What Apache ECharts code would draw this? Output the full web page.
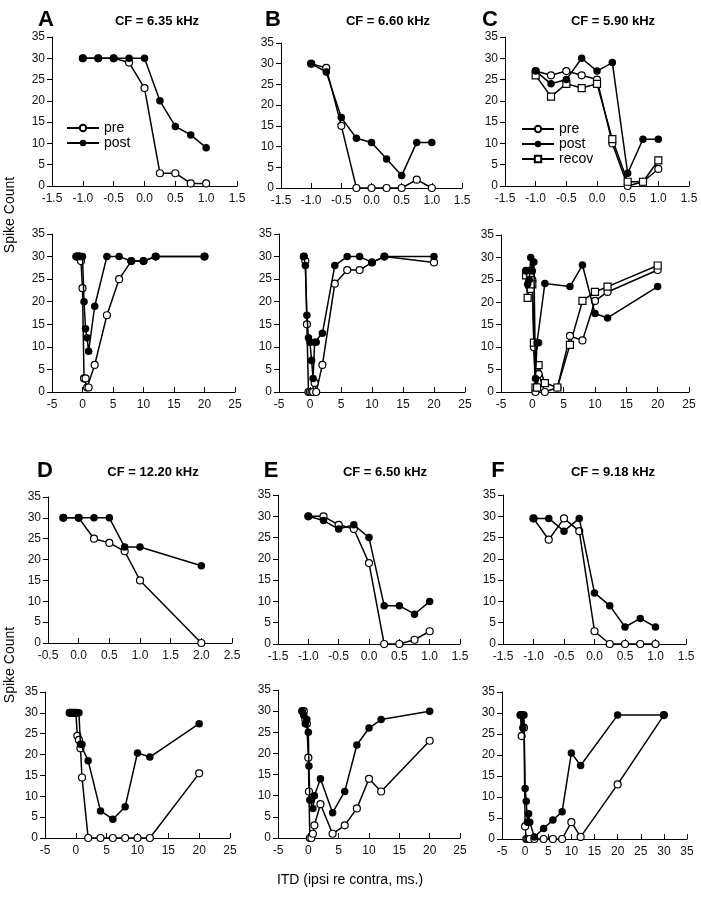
<!DOCTYPE html>
<html>
<head>
<meta charset="utf-8">
<script src="https://cdn.jsdelivr.net/npm/echarts@6/dist/echarts.min.js"></script>
<style>html,body{margin:0;padding:0;background:#fff}#c{width:701px;height:900px}</style>
</head>
<body>
<div id="c"></div>
<script>
// ---------- DATA ----------
const yTicks = [0, 5, 10, 15, 20, 25, 30, 35];
const topXTicks = ['-1.5', '-1.0', '-0.5', '0.0', '0.5', '1.0', '1.5'];
const dTopXTicks = ['-0.5', '0.0', '0.5', '1.0', '1.5', '2.0', '2.5'];
const botXTicks = ['-5', '0', '5', '10', '15', '20', '25'];
const fBotXTicks = ['-5', '0', '5', '10', '15', '20', '25', '30', '35'];

const titlesCF = ['CF = 6.35 kHz', 'CF = 6.60 kHz', 'CF = 5.90 kHz', 'CF = 12.20 kHz', 'CF = 6.50 kHz', 'CF = 9.18 kHz'];
const panelLetters = ['A', 'B', 'C', 'D', 'E', 'F'];

// A
const aTopX = [-1, -0.75, -0.5, -0.25, 0, 0.25, 0.5, 0.75, 1];
const aTopPre = [30, 30, 30, 29, 23, 3, 3, 0.6, 0.6];
const aTopPost = [30, 30, 30, 30, 30, 20, 14, 12, 9];
const aBotX = [-1, -0.75, -0.5, -0.25, 0, 0.25, 0.5, 0.75, 1, 2, 4, 6, 8, 10, 12, 20];
const aBotPre = [30, 30, 30, 29, 23, 3, 3, 1, 1, 6, 17, 25, 29, 29, 30, 30];
const aBotPost = [30, 30, 30, 30, 30, 20, 14, 12, 9, 19, 30, 30, 29, 29, 30, 30];

// B
const bTopX = [-1, -0.75, -0.5, -0.25, 0, 0.25, 0.5, 0.75, 1];
const bTopPre = [30, 29, 15, 0, 0, 0, 0, 2, 0];
const bTopPost = [30, 28, 17, 12, 11, 7, 3, 11, 11];
const bBotX = [-1, -0.75, -0.5, -0.25, 0, 0.25, 0.5, 0.75, 1, 2, 4, 6, 8, 10, 12, 20];
const bBotPre = [30, 29, 15, 0, 0, 0, 0, 2, 0, 6, 24, 27, 27, 28.7, 30, 28.7];
const bBotPost = [30, 28, 17, 12, 11, 7, 3, 11, 11, 13, 28, 30, 30, 28.7, 30, 30];

// C
const cTopX = [-1, -0.75, -0.5, -0.25, 0, 0.25, 0.5, 0.75, 1];
const cTopPre = [27, 26, 27, 26, 25, 10, 0, 1, 4];
const cTopPost = [27, 24, 25, 30, 27, 29, 3, 11, 11];
const cTopRecov = [26, 21, 24, 23, 24, 11, 1, 1, 6];
const cBotX = [-1, -0.75, -0.5, -0.25, 0, 0.25, 0.5, 0.75, 1, 2, 4, 6, 8, 10, 12, 20];
const cBotPre = [27, 26, 27, 26, 25, 10, 0, 1, 4, 0, 1, 12.5, 11.5, 20.3, 22.3, 27.2];
const cBotRecov = [26, 21, 24, 23, 24, 11, 1, 1, 6, 2, 1, 10.5, 20.3, 22.3, 23.5, 28.2];
const cBotPostX = [-1, -0.75, -0.5, -0.25, 0, 0.25, 0.5, 0.75, 1, 2, 6, 8, 10, 12, 20];
const cBotPost = [27, 24, 25, 30, 27, 29, 3, 11, 11, 24.2, 23.5, 28.3, 17.5, 16.5, 23.5];

// D
const dTopX = [-0.25, 0, 0.25, 0.5, 0.75, 1, 2];
const dTopPre = [30, 30, 25, 24, 22, 15, 0];
const dTopPost = [30, 30, 30, 30, 23, 23, 18.5];
const dBotX = [-1, -0.75, -0.5, -0.25, 0, 0.25, 0.5, 0.75, 1, 2, 4, 6, 8, 10, 12, 20];
const dBotPre = [30, 30, 30, 30, 30, 24.5, 23.5, 21.5, 14.5, 0, 0, 0, 0, 0, 0, 15.5];
const dBotPost = [30, 30, 30, 30, 30, 30, 30, 22.5, 22.5, 18.5, 6.5, 4.5, 7.5, 20.4, 19.4, 27.4];

// E
const eTopX = [-1, -0.75, -0.5, -0.25, 0, 0.25, 0.5, 0.75, 1];
const eTopPre = [30, 30, 28, 27, 19, 0, 0, 1, 3];
const eTopPost = [30, 29, 27, 28, 25, 9, 9, 7, 10];
const eBotX = [-1, -0.75, -0.5, -0.25, 0, 0.1, 0.25, 0.5, 0.75, 1, 2, 4, 6, 8, 10, 12, 20];
const eBotPre = [30, 30, 28, 27, 19, 11, 0, 0, 1, 3, 8, 1, 3, 7, 14, 11, 23];
const eBotPost = [30, 29, 27, 28, 25, 17, 9, 9, 7, 10, 14, 6, 11, 22, 26, 28, 30];

// F
const fTopX = [-1, -0.75, -0.5, -0.25, 0, 0.25, 0.5, 0.75, 1];
const fTopPre = [29.5, 24.5, 29.5, 26.5, 3, 0, 0, 0, 0];
const fTopPost = [29.5, 29.5, 26.5, 29.5, 12, 9, 4, 6, 4];
const fBotX = [-1, -0.75, -0.5, -0.25, 0, 0.25, 0.5, 0.75, 1, 2, 4, 6, 8, 10, 12, 20, 30];
const fBotPre = [29.5, 24.5, 29.5, 26.5, 3, 0, 0, 0, 0, 0, 0, 0, 0, 4, 0.5, 13, 29.5];
const fBotPost = [29.5, 29.5, 26.5, 29.5, 12, 9, 4, 6, 4, 0.5, 2.5, 4.5, 6.5, 20.5, 17.5, 29.5, 29.5];

// ---------- LAYOUT ----------
const FONT = '"Liberation Sans", Arial, Helvetica, sans-serif';
const panels = [
  { g: [52, 37, 185, 149], ticks: topXTicks, s: [['pre', aTopX, aTopPre], ['post', aTopX, aTopPost]] },
  { g: [281, 43, 181, 145], ticks: topXTicks, s: [['pre', bTopX, bTopPre], ['post', bTopX, bTopPost]] },
  { g: [505, 37, 184, 149], ticks: topXTicks, s: [['pre', cTopX, cTopPre], ['recov', cTopX, cTopRecov], ['post', cTopX, cTopPost]] },
  { g: [52, 234, 183, 158], ticks: botXTicks, s: [['pre', aBotX, aBotPre], ['post', aBotX, aBotPost]] },
  { g: [279, 234, 186, 158], ticks: botXTicks, s: [['pre', bBotX, bBotPre], ['post', bBotX, bBotPost]] },
  { g: [501, 235, 188, 157], ticks: botXTicks, s: [['pre', cBotX, cBotPre], ['recov', cBotX, cBotRecov], ['post', cBotPostX, cBotPost]] },
  { g: [48, 497, 184, 146], ticks: dTopXTicks, s: [['pre', dTopX, dTopPre], ['post', dTopX, dTopPost]] },
  { g: [278, 495, 182, 149], ticks: topXTicks, s: [['pre', eTopX, eTopPre], ['post', eTopX, eTopPost]] },
  { g: [503, 495, 183, 149], ticks: topXTicks, s: [['pre', fTopX, fTopPre], ['post', fTopX, fTopPost]] },
  { g: [45, 692, 185, 146], ticks: botXTicks, s: [['pre', dBotX, dBotPre], ['post', dBotX, dBotPost]] },
  { g: [278, 690, 182, 148], ticks: botXTicks, s: [['pre', eBotX, eBotPre], ['post', eBotX, eBotPost]] },
  { g: [502, 692, 185, 147], ticks: fBotXTicks, s: [['pre', fBotX, fBotPre], ['post', fBotX, fBotPost]] }
];

const styles = {
  pre: { symbol: 'circle', symbolSize: 7, itemStyle: { color: '#fff', borderColor: '#000', borderWidth: 1.2 } },
  post: { symbol: 'circle', symbolSize: 7.5, itemStyle: { color: '#000', borderColor: '#000', borderWidth: 0 } },
  recov: { symbol: 'rect', symbolSize: 7, itemStyle: { color: '#fff', borderColor: '#000', borderWidth: 1.2 } }
};

const grid = [], xAxis = [], yAxis = [], series = [];
panels.forEach((p, i) => {
  grid.push({ left: p.g[0], top: p.g[1], width: p.g[2], height: p.g[3], containLabel: false });
  const tv = p.ticks.map(Number);
  const dec = p.ticks[0].indexOf('.') >= 0 ? 1 : 0;
  xAxis.push({
    type: 'value', gridIndex: i, min: tv[0], max: tv[tv.length - 1], interval: tv[1] - tv[0],
    splitLine: { show: false },
    axisLine: { show: true, onZero: false, lineStyle: { color: '#000', width: 1 } },
    axisTick: { show: true, inside: true, length: 5, lineStyle: { color: '#000' } },
    axisLabel: { color: '#111', fontSize: 12, fontFamily: FONT, margin: 7, formatter: v => v.toFixed(dec), showMinLabel: true, showMaxLabel: true }
  });
  yAxis.push({
    type: 'value', gridIndex: i, min: yTicks[0], max: yTicks[yTicks.length - 1], interval: yTicks[1] - yTicks[0],
    splitLine: { show: false },
    axisLine: { show: true, onZero: false, lineStyle: { color: '#000', width: 1 } },
    axisTick: { show: true, inside: false, length: 5, lineStyle: { color: '#000' } },
    axisLabel: { color: '#111', fontSize: 12, fontFamily: FONT, margin: 7 }
  });
  p.s.forEach(([name, xs, ys]) => {
    const st = styles[name];
    series.push({
      type: 'line', name: name, xAxisIndex: i, yAxisIndex: i,
      data: xs.map((x, k) => [x, ys[k]]),
      symbol: st.symbol, symbolSize: st.symbolSize, showAllSymbol: true,
      itemStyle: st.itemStyle,
      lineStyle: { color: '#000', width: 1.5 },
      emphasis: { disabled: true }, z: name === 'post' ? 3 : 2
    });
  });
});

const titleCenters = [[41, 152], [268, 383], [485, 608], [40, 148], [266, 380], [493, 608]];
const titleTops = [4, 4, 4, 455, 455, 455];
const title = [];
titleCenters.forEach((c, i) => {
  title.push({ text: panelLetters[i], left: c[0], top: titleTops[i], textAlign: 'center', textStyle: { fontSize: 22, fontWeight: 'bold', color: '#000', fontFamily: FONT } });
  title.push({ text: titlesCF[i], left: c[1], top: titleTops[i] + 6, textAlign: 'center', textStyle: { fontSize: 13, fontWeight: 'bold', color: '#000', fontFamily: FONT } });
});

const legendCommon = {
  orient: 'vertical', itemWidth: 32, itemHeight: 8, itemGap: 1, padding: 0, selectedMode: false,
  textStyle: { fontSize: 14, color: '#000', fontFamily: FONT }
};

const chart = echarts.init(document.getElementById('c'), null, { renderer: 'canvas' });
chart.setOption({
  animation: false,
  backgroundColor: '#fff',
  title: title,
  legend: [
    Object.assign({ data: ['pre', 'post'], left: 66, top: 121 }, legendCommon),
    Object.assign({ data: ['pre', 'post', 'recov'], left: 521, top: 122 }, legendCommon)
  ],
  grid: grid, xAxis: xAxis, yAxis: yAxis, series: series,
  graphic: [
    { type: 'text', x: 10, y: 215, rotation: Math.PI / 2, style: { text: 'Spike Count', font: '14px ' + FONT, fill: '#000', textAlign: 'center', textVerticalAlign: 'middle' } },
    { type: 'text', x: 10, y: 665, rotation: Math.PI / 2, style: { text: 'Spike Count', font: '14px ' + FONT, fill: '#000', textAlign: 'center', textVerticalAlign: 'middle' } },
    { type: 'text', x: 350, y: 880, style: { text: 'ITD (ipsi re contra, ms.)', font: '14px ' + FONT, fill: '#000', textAlign: 'center', textVerticalAlign: 'middle' } }
  ]
});
</script>
</body>
</html>
